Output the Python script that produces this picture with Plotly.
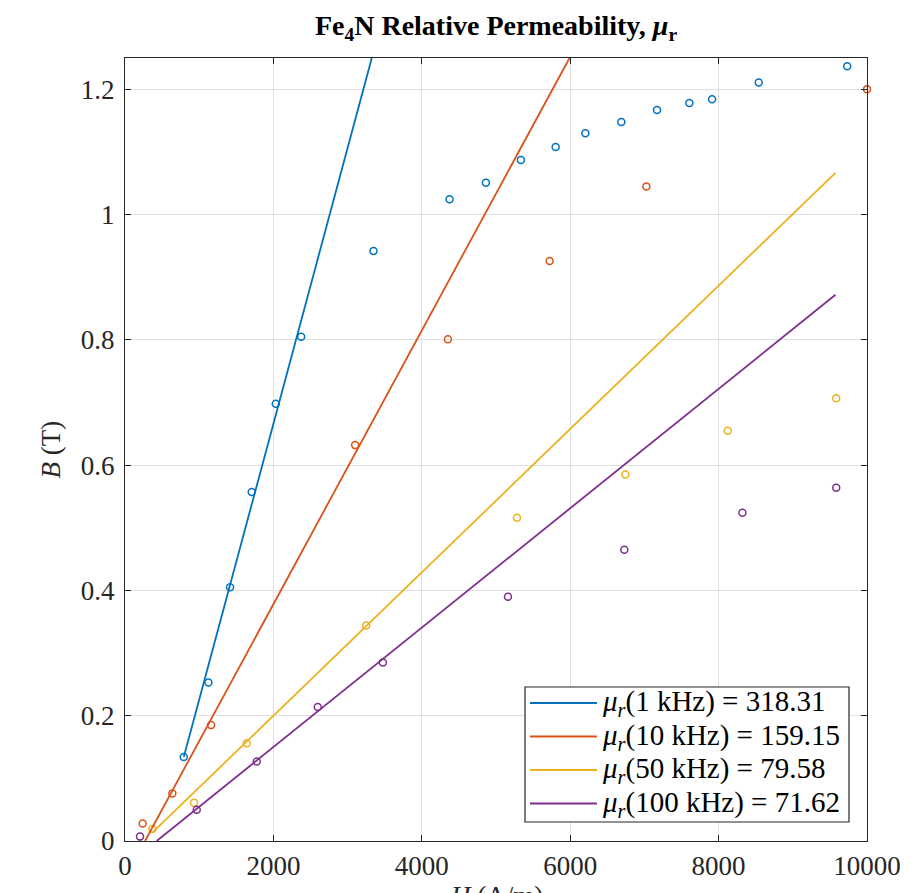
import plotly.graph_objects as go

# ---------------- data ----------------
freq_labels = ["1 kHz", "10 kHz", "50 kHz", "100 kHz"]
mu_r_values = [318.31, 159.15, 79.58, 71.62]

blue_H = [792, 1124, 1416, 1708, 2032, 2374, 3349, 4374, 4864, 5336, 5804, 6204, 6689, 7170, 7606, 7912, 8541, 9733]
blue_B = [0.134, 0.253, 0.405, 0.557, 0.698, 0.805, 0.942, 1.0245, 1.051, 1.087, 1.108, 1.130, 1.148, 1.167, 1.178, 1.184, 1.211, 1.237]

orange_H = [238, 638, 1160, 3102, 4352, 5723, 7026, 10000]
orange_B = [0.028, 0.076, 0.185, 0.632, 0.801, 0.926, 1.045, 1.200]

yellow_H = [368, 931, 1641, 3250, 5282, 6743, 8123, 9585]
yellow_B = [0.019, 0.061, 0.156, 0.344, 0.516, 0.585, 0.655, 0.707]

purple_H = [202, 967, 1776, 2598, 3475, 5161, 6729, 8321, 9585]
purple_B = [0.007, 0.050, 0.127, 0.214, 0.285, 0.390, 0.465, 0.524, 0.564]

# linear fit lines (endpoints)
blue_fit_H = [792, 3326]
blue_fit_B = [0.134, 1.25]
orange_fit_H = [270, 5991]
orange_fit_B = [0.0, 1.25]
yellow_fit_H = [368, 9575]
yellow_fit_B = [0.0133, 1.0667]
purple_fit_H = [427, 9575]
purple_fit_B = [0.0, 0.872]

x_ticks = [0, 2000, 4000, 6000, 8000, 10000]
y_ticks = [0, 0.2, 0.4, 0.6, 0.8, 1.0, 1.2]

# ---------------- styling ----------------
colors = ["#0072BD", "#D95319", "#EDB120", "#7E2F8E"]
serif = "Liberation Serif, Times New Roman, serif"

points = [(blue_H, blue_B), (orange_H, orange_B), (yellow_H, yellow_B), (purple_H, purple_B)]
fits = [(blue_fit_H, blue_fit_B), (orange_fit_H, orange_fit_B),
        (yellow_fit_H, yellow_fit_B), (purple_fit_H, purple_fit_B)]

fig = go.Figure()

for (h, b), c in zip(points, colors):
    fig.add_trace(go.Scatter(
        x=h, y=b, mode="markers", showlegend=False, cliponaxis=False,
        marker=dict(symbol="circle-open", size=7, color=c, line=dict(width=1.5, color=c)),
    ))

for (h, b), c, f, m in zip(fits, colors, freq_labels, mu_r_values):
    fig.add_trace(go.Scatter(
        x=h, y=b, mode="lines", showlegend=False,
        name=f"μr({f}) = {m:.2f}",
        line=dict(color=c, width=1.8),
    ))

# The page body adds an 8px offset, so the figure is 8px smaller and shifted.
OFF = 8
FW, FH = 922 - OFF, 893 - OFF
L, R, T, B = 125 - OFF, 867 - OFF, 58 - OFF, 841 - OFF
W, H = R - L, B - T

def px(x):
    return (x - OFF - L) / W

def py(y):
    return (B - (y - OFF)) / H

# ---------------- manual legend (MATLAB style) ----------------
fig.add_shape(type="rect", xref="paper", yref="paper",
              x0=px(525), x1=px(849), y0=py(822), y1=py(687),
              line=dict(color="#262626", width=1.2), fillcolor="white", layer="above")
row_y = [703, 736.5, 770, 803.5]
for yy, c, f, m in zip(row_y, colors, freq_labels, mu_r_values):
    fig.add_shape(type="line", xref="paper", yref="paper",
                  x0=px(530), x1=px(597), y0=py(yy), y1=py(yy),
                  line=dict(color=c, width=1.8), layer="above")
    fig.add_annotation(xref="paper", yref="paper", x=px(600), y=py(yy),
                       xanchor="left", yanchor="middle", showarrow=False,
                       text=f"<i>μ</i><sub><i>r</i></sub>({f}) = {m:.2f}",
                       font=dict(family=serif, size=29, color="#000000"))

# x-axis title: as in the reference it sits at the very bottom edge
fig.add_annotation(xref="paper", yref="paper", x=0.5, y=py(879),
                   xanchor="center", yanchor="top", showarrow=False,
                   text="<i>H</i> (A/m)",
                   font=dict(family=serif, size=27, color="#262626"))

axis_common = dict(
    showline=True, linecolor="#262626", linewidth=1.3, mirror="allticks",
    ticks="inside", ticklen=6, tickwidth=1.1, tickcolor="#262626",
    showgrid=True, gridcolor="#dfdfdf", gridwidth=1,
    zeroline=False, automargin=False,
    tickfont=dict(family=serif, size=27, color="#262626"),
)

fig.update_layout(
    width=FW, height=FH,
    paper_bgcolor="white", plot_bgcolor="white",
    margin=dict(l=L, r=FW - R, t=T, b=FH - B),
    title=dict(text="<b>Fe<sub>4</sub>N Relative Permeability, <i>μ</i><sub>r</sub></b>",
               x=(L + R) / 2 / FW, xanchor="center", y=1 - 17 / FH, yanchor="middle",
               font=dict(family=serif, size=28, color="#000000")),
    xaxis=dict(range=[0, 10000], tickvals=x_ticks, ticktext=[str(v) for v in x_ticks],
               **axis_common),
    yaxis=dict(range=[0, 1.25], tickvals=y_ticks, ticktext=[f"{v:g}" for v in y_ticks],
               ticklabelstandoff=4,
               title=dict(text="<i>B</i> (T)", standoff=12,
                          font=dict(family=serif, size=27, color="#262626")),
               **axis_common),
    showlegend=False,
)

fig.write_html("out.html")
